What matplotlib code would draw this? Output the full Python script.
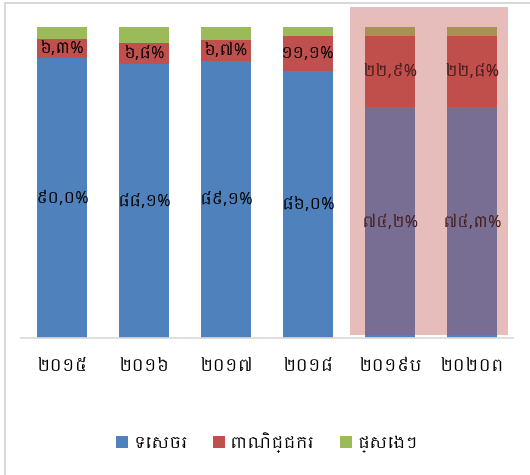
import matplotlib
matplotlib.use('Agg')
import matplotlib.pyplot as plt
from matplotlib import font_manager
from matplotlib.patches import Rectangle
from matplotlib.lines import Line2D

# Khmer text needs a Khmer font; use one if installed
khmer = [f.name for f in font_manager.fontManager.ttflist if 'khmer' in f.name.lower()]
plt.rcParams['font.family'] = khmer[:1] + ['DejaVu Sans']

years = ['២០១៥', '២០១៦', '២០១៧', '២០១៨', '២០១៩ប', '២០២០ព']
services = [90.0, 88.1, 89.1, 86.0, 74.2, 74.3]
commerce = [6.3, 6.8, 6.7, 11.1, 22.9, 22.8]
other = [3.7, 5.1, 4.2, 2.9, 2.9, 2.9]
series_names = ['ទេសចរ', 'ពាណិជ្ជករ', 'ផ្សេងៗ']
colors = ['#4f81bd', '#c0504d', '#9bbb59']

khmer_digits = str.maketrans('0123456789.', '០១២៣៤៥៦៧៨៩,')


def kh_pct(v):
    return ('%.1f%%' % v).translate(khmer_digits)


fig = plt.figure(figsize=(5.3, 4.75), dpi=100)
ax = fig.add_axes([0.0396, 0.2884, 0.928, 0.6547])

x = range(len(years))
bottom = [0] * len(years)
for vals, name, c in zip([services, commerce, other], series_names, colors):
    bars = ax.bar(x, vals, width=0.61, bottom=bottom, color=c, label=name,
                  edgecolor='none', zorder=2)
    if vals is not other:
        ax.bar_label(bars, labels=[kh_pct(v) for v in vals], label_type='center',
                     fontsize=11.5, color='black', zorder=3)
    bottom = [b + v for b, v in zip(bottom, vals)]

# highlight of the forecast years
ax.add_patch(Rectangle((3.51, 1.0), 1.93, 105.4, facecolor='#c04c4a', alpha=0.37,
                       edgecolor='none', zorder=5, clip_on=False))

ax.set_xlim(-0.5, 5.5)
ax.set_ylim(0, 100)
ax.set_xticks(list(x))
ax.set_xticklabels(years, fontsize=12)
ax.tick_params(axis='x', length=0, pad=14)
ax.set_yticks([])
for side in ['left', 'right', 'top']:
    ax.spines[side].set_visible(False)
ax.spines['bottom'].set_color('#d9d9d9')
ax.spines['bottom'].set_linewidth(1.2)

ax.legend(loc='center', bbox_to_anchor=(0.5, -0.335), ncol=3, frameon=False,
          fontsize=11.5, handlelength=0.75, handleheight=0.75, handletextpad=0.3,
          columnspacing=1.6)

# chart frame (cut off at left/top)
fig.add_artist(Line2D([5 / 530, 5 / 530], [0, 1 - 3 / 475], color='#d9d9d9', lw=1.5))
fig.add_artist(Line2D([5 / 530, 1], [1 - 3 / 475, 1 - 3 / 475], color='#d9d9d9', lw=1.5))

fig.savefig('out.png', dpi=100)
